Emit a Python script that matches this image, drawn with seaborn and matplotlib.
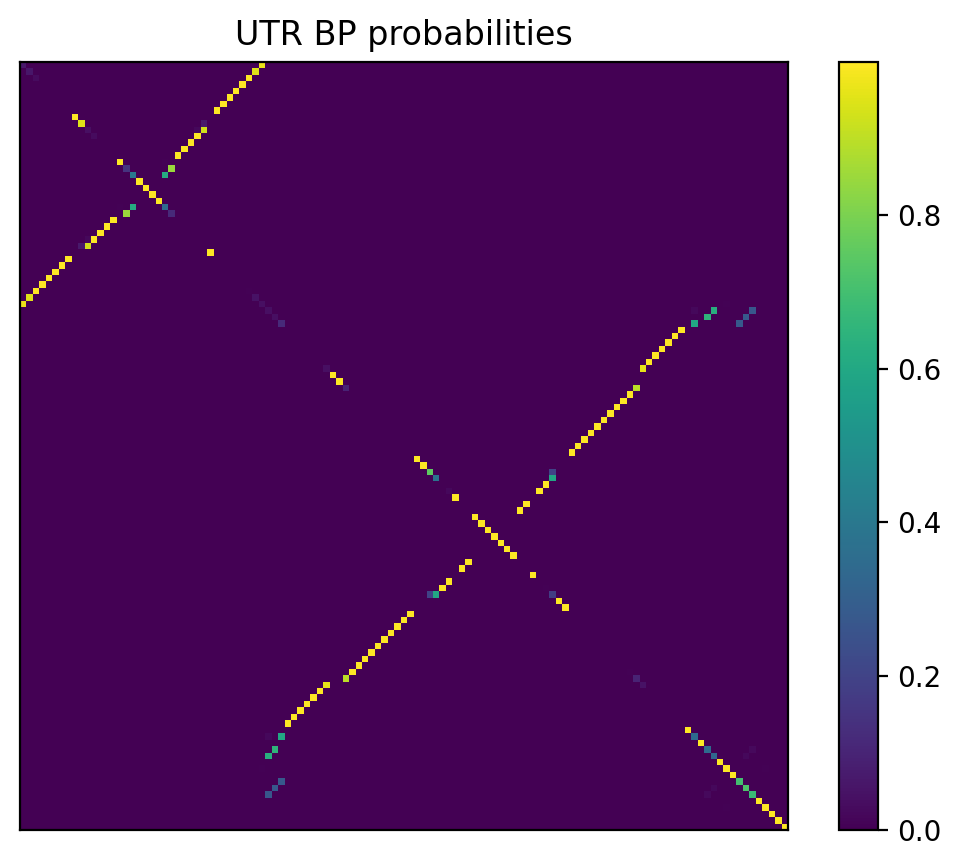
import numpy as np
import matplotlib
matplotlib.use("Agg")
import matplotlib.pyplot as plt
import seaborn as sns

n_bases = 119

# paired positions, upper triangle only (matrix is symmetric)
pair_i = [0, 1, 2, 3, 4, 5, 6, 7,
          9, 10, 10, 11, 12, 13, 14, 15, 16, 17,
          37, 38, 38, 39, 40, 38, 39, 40,
          41, 42, 43, 44, 45, 46, 47,
          50, 51, 52, 53, 54, 55, 56, 57, 58, 59, 60,
          63, 64, 65, 66, 68, 69,
          106, 107, 109]
pair_j = [37, 36, 35, 34, 33, 32, 31, 30,
          28, 28, 27, 27, 26, 25, 24, 22, 23, 22,
          109, 104, 107, 106, 104, 113, 112, 111,
          102, 101, 100, 99, 98, 97, 96,
          95, 94, 93, 92, 91, 90, 89, 88, 87, 86, 85,
          82, 82, 81, 80, 78, 77,
          113, 112, 115]
pair_p = [0.97, 0.95, 0.999, 0.999, 0.999, 0.999, 0.999, 0.999,
          0.07, 0.93, 0.02, 0.999, 0.999, 0.999, 0.999, 0.005, 0.85, 0.62,
          0.005, 0.02, 0.63, 0.65, 0.6, 0.27, 0.28, 0.28,
          0.999, 0.999, 0.999, 0.999, 0.999, 0.999, 0.96,
          0.9, 0.999, 0.999, 0.999, 0.999, 0.999, 0.999, 0.999, 0.999, 0.999, 0.999,
          0.2, 0.6, 0.999, 0.999, 0.999, 0.999,
          0.025, 0.02, 0.005]

# values sitting on the main diagonal
diag_idx = [0, 1, 2, 8, 9, 10, 11, 15, 16, 17, 18, 19, 20, 21, 22, 23, 29,
            35, 36, 37, 38, 39, 40, 47, 48, 49, 50,
            61, 62, 63, 64, 66, 67, 70, 71, 72, 73, 74, 75, 76, 79,
            81, 82, 83, 84, 94, 95, 96,
            103, 104, 105, 106, 107, 108, 109, 110, 111, 112, 113,
            114, 115, 116, 117, 118]
diag_p = [0.07, 0.06, 0.03, 0.999, 0.95, 0.04, 0.03, 0.999, 0.15, 0.4, 0.999, 0.999, 0.999, 0.999, 0.35, 0.12, 0.999,
          0.005, 0.05, 0.04, 0.04, 0.04, 0.12, 0.04, 0.999, 0.999, 0.1,
          0.999, 0.999, 0.75, 0.38, 0.02, 0.999, 0.999, 0.999, 0.999, 0.999, 0.999, 0.999, 0.999, 0.999,
          0.005, 0.18, 0.999, 0.999, 0.005, 0.1, 0.05,
          0.999, 0.35, 0.999, 0.35, 0.33, 0.999, 0.999, 0.999, 0.7, 0.72, 0.68,
          0.999, 0.999, 0.999, 0.999, 0.999]

bpp = np.zeros((n_bases, n_bases))
bpp[pair_i, pair_j] = pair_p
bpp[pair_j, pair_i] = pair_p
bpp[diag_idx, diag_idx] = diag_p

W, H = 961, 867
fig = plt.figure(figsize=(W / 200, H / 200), dpi=200)
ax = fig.add_axes([20 / W, 1 - 830 / H, 768 / W, 768 / H])
cax = fig.add_axes([839 / W, 1 - 830 / H, 39 / W, 768 / H])

sns.heatmap(bpp, ax=ax, cbar_ax=cax, cmap="viridis", vmin=0, vmax=bpp.max(),
            xticklabels=False, yticklabels=False)

# the mesh snaps cells to uneven widths, nearest-neighbour image is closer to the reference
ax.collections[0].set_visible(False)
ax.imshow(bpp, cmap="viridis", vmin=0, vmax=bpp.max(), interpolation="nearest",
          extent=(0, n_bases, n_bases, 0), aspect="auto")
ax.set_xlim(0, n_bases)
ax.set_ylim(n_bases, 0)

# seaborn strips the frames, the reference keeps them
for side in ax.spines.values():
    side.set_visible(True)
    side.set_linewidth(0.8)
cbar = ax.collections[0].colorbar
cbar.outline.set_visible(True)
cbar.outline.set_linewidth(0.8)
cbar.outline.set_edgecolor("black")
cbar.set_ticks([0.0, 0.2, 0.4, 0.6, 0.8])
cbar.ax.tick_params(labelsize=10, length=3.5, width=0.8)

ax.set_title("UTR BP probabilities", fontsize=12)

fig.savefig("out.png", dpi=200)
